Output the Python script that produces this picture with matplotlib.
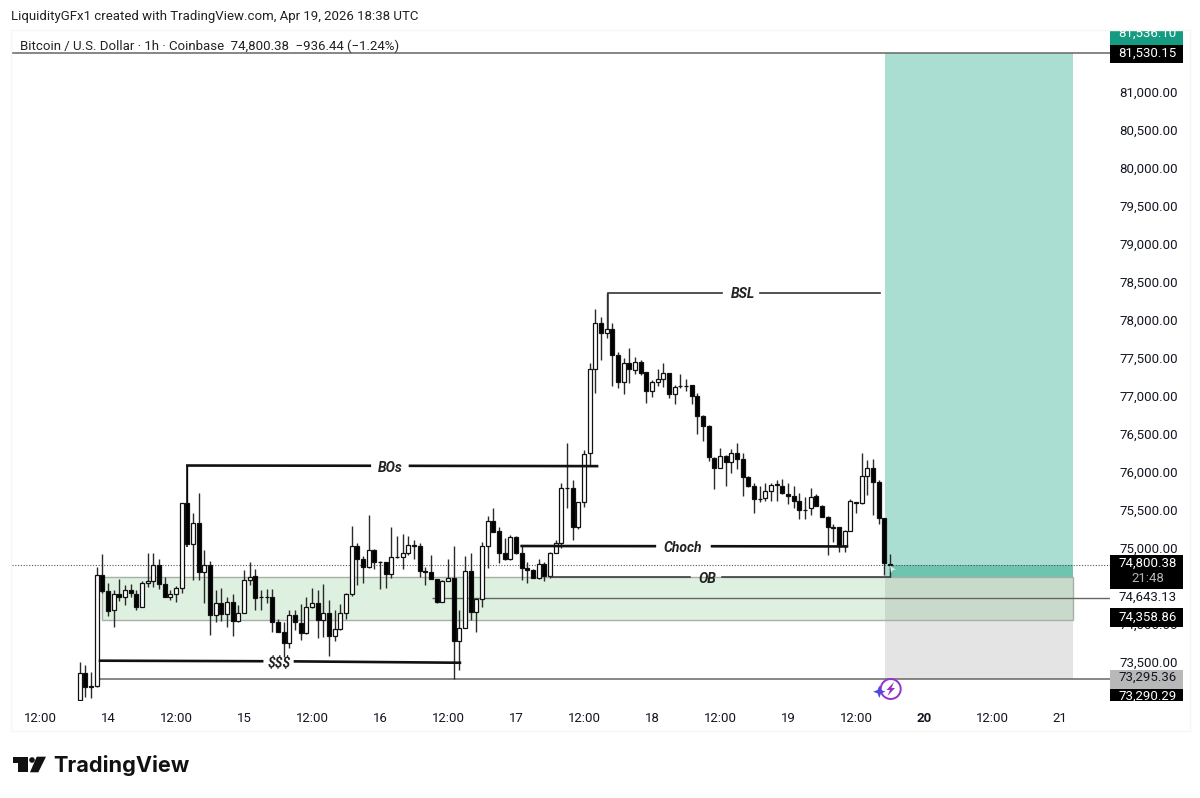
import numpy as np
import matplotlib
matplotlib.use('Agg')
import matplotlib.pyplot as plt
from matplotlib.patches import Rectangle, Polygon, Circle
from matplotlib.transforms import Bbox, TransformedBbox, ScaledTranslation

plt.rcParams['font.family'] = ['Roboto', 'DejaVu Sans']

# hours counted from Apr 13 12:00
hours = np.arange(7, 151)

opens = [
  73020, 73380, 73200, 73200, 74660, 74450, 74200, 74420, 74370, 74470, 74420, 74250,
  74560, 74590, 74800, 74550, 74370, 74410, 74490, 75610, 75070, 75350, 74700, 74800,
  74140, 74300, 74150, 74310, 74060, 74170, 74600, 74650, 74380, 74380, 74370, 74050,
  73920, 73770, 74140, 74030, 73900, 74240, 74300, 74070, 74170, 73860, 73950, 74160,
  74410, 75040, 74870, 74770, 74990, 74840, 74830, 74680, 74895, 74900, 74960, 75050,
  75050, 74720, 74700, 74610, 74310, 74590, 74630, 73790, 73970, 74720, 74180, 74350,
  75050, 75380, 75240, 74950, 74880, 75160, 74960, 74760, 74730, 74620, 74810, 74650,
  74960, 75090, 75810, 75810, 75300, 75620, 76270, 77380, 77980, 77850, 77900, 77560,
  77210, 77450, 77360, 77470, 77330, 77090, 77200, 77240, 77320, 77040, 77145, 77145,
  77160, 77020, 76760, 76630, 76210, 76070, 76230, 76150, 76270, 76190, 75960, 75840,
  75670, 75680, 75770, 75855, 75840, 75730, 75700, 75640, 75525, 75540, 75700, 75570,
  75430, 75290, 75290, 75050, 75240, 75625, 75610, 75970, 76070, 75890, 75420, 74810,
]
closes = [
  73370, 73190, 73190, 74660, 74450, 74190, 74420, 74380, 74470, 74430, 74240, 74560,
  74590, 74800, 74550, 74370, 74410, 74490, 75610, 75070, 75350, 74700, 74800, 74140,
  74290, 74150, 74310, 74060, 74170, 74600, 74640, 74360, 74375, 74375, 74050, 73920,
  73770, 74140, 74040, 73900, 74240, 74300, 74070, 74170, 73860, 73950, 74160, 74420,
  75050, 74870, 74770, 74990, 74840, 74835, 74680, 74900, 74900, 74960, 75060, 75055,
  74720, 74700, 74610, 74310, 74590, 74630, 73790, 73970, 74720, 74180, 74350, 75050,
  75380, 75230, 74950, 74880, 75160, 74950, 74760, 74730, 74630, 74810, 74650, 74960,
  75090, 75810, 75815, 75300, 75620, 76260, 77380, 77980, 77850, 77900, 77560, 77200,
  77450, 77370, 77470, 77320, 77090, 77200, 77240, 77320, 77040, 77140, 77150, 77150,
  77020, 76760, 76630, 76220, 76070, 76230, 76150, 76270, 76190, 75960, 75840, 75670,
  75665, 75770, 75850, 75860, 75740, 75700, 75640, 75520, 75520, 75690, 75570, 75430,
  75290, 75285, 75040, 75240, 75640, 75615, 75970, 76070, 75890, 75410, 74820, 74800.38,
]
highs = [
  73520, 73480, 73390, 74770, 74940, 74560, 74470, 74610, 74530, 74550, 74470, 74590,
  74950, 74960, 74880, 74640, 74470, 74520, 75610, 76110, 75480, 75740, 74990, 74850,
  74470, 74490, 74380, 74420, 74270, 74730, 74830, 74750, 74470, 74480, 74480, 74080,
  74050, 74200, 74210, 74280, 74380, 74500, 74470, 74540, 74340, 74200, 74280, 74430,
  75310, 75080, 74920, 75450, 75010, 74850, 74840, 75300, 75180, 75200, 75180, 75120,
  75090, 74770, 74930, 74610, 74600, 74880, 75040, 74200, 74910, 74960, 74360, 75100,
  75440, 75540, 75300, 75150, 75190, 75180, 75050, 74840, 74740, 74870, 74830, 74970,
  75120, 75880, 76400, 75910, 75630, 76310, 77450, 78160, 78060, 78380, 77980, 77600,
  77520, 77650, 77530, 77490, 77340, 77230, 77370, 77450, 77320, 77170, 77310, 77240,
  77170, 77060, 76770, 76640, 76220, 76330, 76240, 76320, 76400, 76270, 75970, 75880,
  75840, 75870, 75880, 75920, 75930, 75880, 75830, 75740, 75690, 75810, 75730, 75580,
  75440, 75340, 75300, 75260, 75660, 75630, 76270, 76180, 76190, 75910, 75420, 74940,
]
lows = [
  72960, 73060, 73050, 73190, 74430, 74130, 73980, 74320, 74270, 74380, 74200, 74240,
  74510, 74510, 74480, 74370, 74330, 74310, 74430, 75070, 74600, 74600, 74300, 73880,
  74040, 74060, 73980, 73860, 74050, 74170, 74530, 74210, 74200, 74300, 73910, 73920,
  73590, 73700, 73940, 73810, 73890, 74230, 73830, 73850, 73600, 73790, 73940, 74080,
  74390, 74530, 74560, 74760, 74740, 74480, 74490, 74620, 74890, 74750, 74930, 74870,
  74640, 74530, 74610, 74290, 74310, 74590, 73295.36, 73420, 73970, 74070, 73910, 74250,
  74760, 75230, 74820, 74860, 74860, 74940, 74600, 74560, 74620, 74610, 74580, 74630,
  74960, 75020, 75540, 75130, 75270, 75560, 76110, 77060, 77490, 77780, 77150, 77120,
  77050, 77190, 77310, 77300, 76930, 77010, 77150, 77140, 77000, 76920, 77130, 77090,
  76920, 76520, 76430, 76160, 75790, 76070, 75830, 76010, 76060, 75700, 75820, 75480,
  75620, 75640, 75640, 75640, 75730, 75600, 75540, 75400, 75400, 75450, 75570, 75430,
  74930, 75100, 74970, 74970, 75240, 75480, 75600, 75720, 75450, 75340, 74670, 74640,
]

last_price = 74800.38
target_price = 81530.15
entry_price = 74643.13
mid_price = 74358.86
stop_price = 73295.36
ob_bottom = 74072
ob_start = 11.0
tool_start = 149.1
tool_end = 182.3

price_ticks = [73500, 74000] + list(range(75000, 81500, 500))
time_ticks = np.arange(0, 181, 12)
time_labels = ['12:00', '14', '12:00', '15', '12:00', '16', '12:00', '17',
               '12:00', '18', '12:00', '19', '12:00', '20', '12:00', '21']

ink = '#131722'
px_per_hour = 68 / 12
px_per_price = 0.076

fig = plt.figure(figsize=(12, 7.98), dpi=100, facecolor='white')
ax = fig.add_axes([12 / 1200, 1 - 701 / 798, 1098 / 1200, 671 / 798])
ax.set_xlim((12 - 40) / px_per_hour, (1110 - 40) / px_per_hour)
ax.set_ylim(75000 - (701 - 549.5) / px_per_price, 75000 + (549.5 - 30) / px_per_price)
for s in ax.spines.values():
  s.set_visible(False)

# price scale and time scale
ax.yaxis.tick_right()
ax.set_yticks(price_ticks)
ax.set_yticklabels([f'{p:,.2f}' for p in price_ticks], fontsize=9.5, color=ink)
ax.set_xticks(time_ticks)
ax.set_xticklabels(time_labels, fontsize=9.5, color=ink)
ax.tick_params(length=0, axis='y', pad=6.5)
ax.tick_params(length=0, axis='x', pad=7.6)
ax.get_xticklabels()[13].set_fontweight('bold')
# scale labels sit a little above their price
nudge = ScaledTranslation(0, 2 / 100, fig.dpi_scale_trans)
for lab in ax.get_yticklabels():
  lab.set_transform(lab.get_transform() + nudge)

# long position tool
ax.add_patch(Rectangle((tool_start, entry_price), tool_end - tool_start, target_price - entry_price,
                       fc='#abded2', ec='none', zorder=1))
ax.add_patch(Rectangle((tool_start, stop_price), tool_end - tool_start, entry_price - stop_price,
                       fc='#e4e4e4', ec='none', zorder=1))
ax.add_patch(Rectangle((150, entry_price), tool_end - 150, last_price - entry_price,
                       fc='#6fc4af', ec='none', zorder=1.1))

# order block zone
ax.add_patch(Rectangle((ob_start, ob_bottom), tool_end - ob_start, entry_price - ob_bottom,
                       fc='#4caf50', alpha=0.18, ec='none', zorder=1.5))
ax.add_patch(Rectangle((ob_start, ob_bottom), tool_end - ob_start, entry_price - ob_bottom,
                       fc='none', ec='#a8aea8', lw=1, zorder=1.6))

# horizontal levels that run to the price scale
xr = ax.get_xlim()
ax.hlines(target_price, xr[0], xr[1], color='#666666', lw=1.1, zorder=2)
ax.hlines(mid_price, 69.2, xr[1], color='#666666', lw=1, zorder=2)
ax.hlines(stop_price, 10.4, xr[1], color='#666666', lw=1.1, zorder=2)
ax.hlines(last_price, xr[0], xr[1], color='#555555', lw=0.8, linestyles=(0, (1, 1.5)), zorder=2)
ax.vlines(150, entry_price, last_price, color='#7a9a92', lw=1, zorder=2)

# candles
o = np.array(opens)
c = np.array(closes)
ax.vlines(hours, lows, highs, color='#2a2a2a', lw=1, zorder=3)
ax.bar(hours, np.abs(c - o), bottom=np.minimum(o, c), width=0.74,
       color=['white' if up else 'black' for up in c >= o],
       edgecolor='#111111', linewidth=0.9, zorder=4)

# drawn structure lines
ax.vlines(26, 75030, 76110, color='black', lw=1.1, zorder=3)
ax.vlines(100.2, 77900, 78380, color='#333333', lw=1.1, zorder=3)
ax.plot([26, 58.2], [76105, 76102], color='#111111', lw=1.9, zorder=5)
ax.plot([65.3, 98.3], [76101, 76097], color='#111111', lw=1.9, zorder=5)
ax.plot([100.2, 120.3], [78379, 78379], color='#333333', lw=1.2, zorder=5)
ax.plot([127, 148.3], [78379, 78379], color='#333333', lw=1.2, zorder=5)
ax.plot([85, 108.5], [75046, 75044], color='#111111', lw=1.9, zorder=5)
ax.plot([118.6, 142.4], [75043, 75040], color='#111111', lw=1.9, zorder=5)
ax.plot([90.2, 114.7], [74638, 74638], color='#333333', lw=1.1, zorder=5)
ax.plot([120.3, 150], [74638, 74638], color='#333333', lw=1.1, zorder=5)
ax.plot([10.6, 39.2], [73537, 73530], color='#111111', lw=1.9, zorder=5)
ax.plot([45, 74.1], [73528, 73510], color='#111111', lw=1.9, zorder=5)

note = dict(fontsize=10, fontstyle='italic', fontweight='bold', color='#222222',
            ha='center', va='center', zorder=6)
ax.text(61.8, 76078, 'BOs', **note)
ax.text(124.1, 78360, 'BSL', **note)
ax.text(113.5, 75025, 'Choch', **note)
ax.text(117.8, 74610, 'OB', **note)
ax.text(42.2, 73505, '$$$', **note)

# everything around the pane is laid out in pixels
ov = fig.add_axes([0, 0, 1, 1], zorder=10)
ov.set_xlim(0, 1200)
ov.set_ylim(798, 0)
ov.axis('off')

ov.plot([11, 1190, 1190, 11, 11], [30, 30, 731, 731, 30], color='#f6f6f6', lw=1)
ov.text(11, 16.5, 'LiquidityGFx1 created with TradingView.com, Apr 19, 2026 18:38 UTC',
        fontsize=9.5, color='#222222', va='center')
ov.text(20, 46, 'Bitcoin / U.S. Dollar · 1h · Coinbase  74,800.38  \u2212936.44 (\u22121.24%)',
        fontsize=9.5, color='#222222', va='center')

def price_box(y0, y1, fc):
  ov.add_patch(Rectangle((1110, y0), 73, y1 - y0, fc=fc, ec='none'))

def price_text(y, txt, color='white', clip=None):
  t = ov.text(1147.5, y, txt, fontsize=9.5, color=color, ha='center', va='center')
  if clip:
    t.set_clip_box(TransformedBbox(Bbox([[1110, clip[0]], [1183, clip[1]]]), ov.transData))
    t.set_clip_on(True)

price_box(30, 45, '#149b82')
price_text(33.5, '81,536.10', clip=(30, 45))
price_box(45, 63, 'black')
price_text(53, '81,530.15')
price_box(555, 589, 'black')
price_text(563.5, '74,800.38')
price_text(579, '21:48', color='#b5b5b5')
price_text(597.5, '74,643.13', color=ink)
price_box(608, 627, 'black')
price_text(617, '74,358.86')
price_box(670, 688.5, '#b8b8b8')
price_text(677.5, '73,295.36', color=ink)
price_box(689, 701, 'black')
price_text(696.5, '73,290.29', clip=(689, 701))

# small arrow where the tool's profit band starts
ov.add_patch(Polygon([(890, 565.5), (896, 570), (893, 570), (891, 573)], fc='#d5eee8', ec='none'))

# bolt badge on the time scale edge
ov.add_patch(Circle((890.7, 689), 10, fc='white', ec='#9333c9', lw=1.4))
ov.add_patch(Polygon([(894, 682), (886.5, 690), (890, 690), (887.5, 696), (895, 688), (891.5, 688)],
                     fc='#9333c9', ec='none'))
ov.add_patch(Polygon([(879.3, 685.5), (881, 690), (885.5, 691.7), (881, 693.4), (879.3, 698),
                      (877.6, 693.4), (873.1, 691.7), (877.6, 690)], fc='#4f46e5', ec='none'))

# TradingView logo
ov.add_patch(Polygon([(13.3, 756.7), (28.3, 756.7), (28.3, 772.3), (18.3, 772.3), (18.3, 763.3), (13.3, 763.3)],
                     fc='#111111', ec='none'))
ov.add_patch(Circle((32, 760), 2.8, fc='#111111', ec='none'))
ov.add_patch(Polygon([(36.7, 756.7), (46, 756.7), (38.3, 772.3), (30, 772.3)], fc='#111111', ec='none'))
ov.text(53, 765, 'TradingView', family=['Inter', 'DejaVu Sans'], fontsize=15.6, fontweight='bold',
        color='#111111', va='center')

fig.savefig('out.png', dpi=100)
